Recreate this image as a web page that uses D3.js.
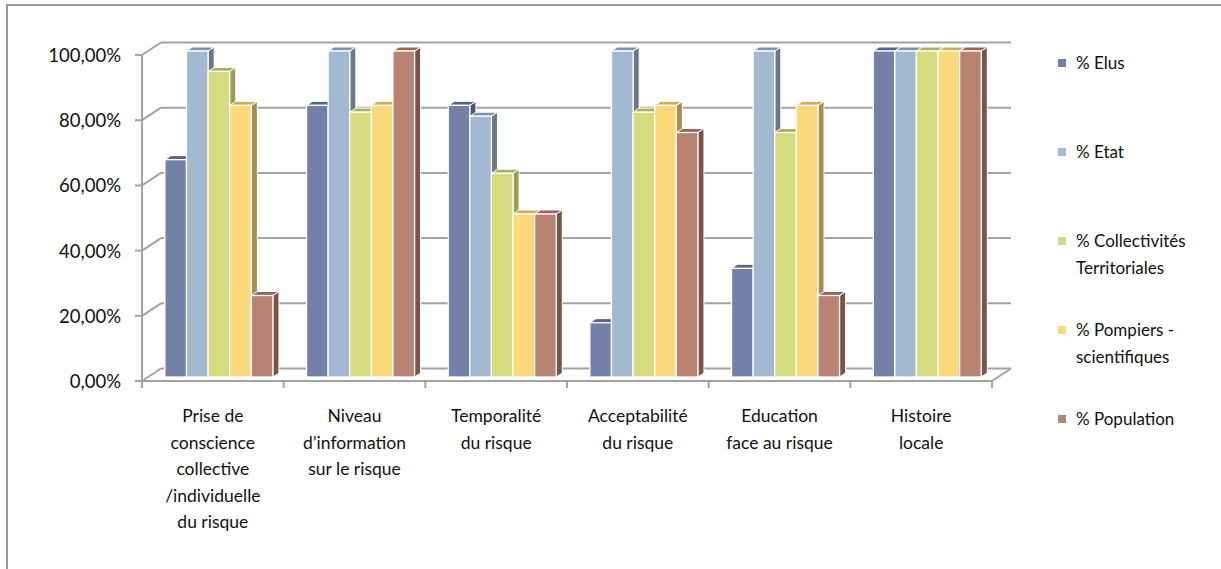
<!DOCTYPE html>
<html>
<head>
<meta charset="utf-8">
<script src="https://cdn.jsdelivr.net/npm/d3@7"></script>
<style>
  html, body { margin: 0; padding: 0; background: #fff; }
  svg { display: block; }
  text { font-family: Lato, "Open Sans", sans-serif; fill: #111; }
</style>
</head>
<body>
<svg id="chart" width="1221" height="569"></svg>
<script>
// ---------- data ----------
const categoryLines = [
  ["Prise de", "conscience", "collective", "/individuelle", "du risque"],
  ["Niveau", "d’information", "sur le risque"],
  ["Temporalité", "du risque"],
  ["Acceptabilité", "du risque"],
  ["Education", "face au risque"],
  ["Histoire", "locale"]
];
const seriesNames = ["% Elus", "% Etat", "% Collectivités Territoriales", "% Pompiers - scientifiques", "% Population"];
const legendLines = [["% Elus"], ["% Etat"], ["% Collectivités", "Territoriales"], ["% Pompiers -", "scientifiques"], ["% Population"]];
const elus          = [66.67, 83.33, 83.33, 16.67, 33.33, 100];
const etat          = [100, 100, 80, 100, 100, 100];
const collectivites = [93.75, 81.25, 62.5, 81.25, 75, 100];
const pompiers      = [83.33, 83.33, 50, 83.33, 83.33, 100];
const population    = [25, 100, 50, 75, 25, 100];
const yTicks = [0, 20, 40, 60, 80, 100];
const yTickLabels = ["0,00%", "20,00%", "40,00%", "60,00%", "80,00%", "100,00%"];

const seriesValues = [elus, etat, collectivites, pompiers, population];

// ---------- styles ----------
const frontCol = ["#7380A8", "#A3B8D1", "#D5DC80", "#FAD97A", "#B98373"];
const topCol   = ["#58638C", "#7E93A8", "#ACAF5D", "#CDAE55", "#9A6556"];
const sideCol  = ["#4B5576", "#69798A", "#9C9C4F", "#A68E4E", "#7A5448"];
const gridCol = "#a3a3a3";

const svg = d3.select("#chart");

// outer frame
svg.append("rect").attr("x", 7).attr("y", 5).attr("width", 1400).attr("height", 800)
  .attr("fill", "#fff").attr("stroke", "#9a9a9a").attr("stroke-width", 2);

// geometry
const DX = 19, DY = -12.5;
const y = d3.scaleLinear().domain([0, 100]).range([381, 55]);
const x0 = d3.scaleBand().domain(d3.range(categoryLines.length)).range([142, 992]);
const x1 = d3.scaleBand().domain(d3.range(seriesNames.length)).range([16.8, 124.8]);
const fOff = 0.32;
const bDepth = 0.32;

const g = svg.append("g");

yTicks.forEach((t, i) => {
  const yf = y(t);
  g.append("line").attr("x1", 142 + DX).attr("x2", 992 + DX)
    .attr("y1", yf + DY).attr("y2", yf + DY)
    .attr("stroke", gridCol).attr("stroke-width", 2);
  g.append("line").attr("x1", 142).attr("y1", yf).attr("x2", 142 + DX).attr("y2", yf + DY)
    .attr("stroke", gridCol).attr("stroke-width", 2);
  g.append("line").attr("x1", 135).attr("x2", 142).attr("y1", yf).attr("y2", yf)
    .attr("stroke", gridCol).attr("stroke-width", 2);
  g.append("text").attr("x", 121).attr("y", yf + 7).attr("text-anchor", "end")
    .style("font-size", "18.5px").text(yTickLabels[i]);
});
g.append("line").attr("x1", 142).attr("x2", 142).attr("y1", y(100)).attr("y2", y(0))
  .attr("stroke", gridCol).attr("stroke-width", 2);
g.append("line").attr("x1", 142).attr("x2", 992).attr("y1", y(0)).attr("y2", y(0))
  .attr("stroke", gridCol).attr("stroke-width", 2);
g.append("line").attr("x1", 992).attr("y1", y(0)).attr("x2", 992 + DX).attr("y2", y(0) + DY)
  .attr("stroke", gridCol).attr("stroke-width", 2);
d3.range(categoryLines.length + 1).forEach(i => {
  const xx = 142 + i * x0.bandwidth();
  g.append("line").attr("x1", xx).attr("x2", xx).attr("y1", y(0)).attr("y2", y(0) + 7)
    .attr("stroke", gridCol).attr("stroke-width", 2);
});

// bars
const ox = fOff * DX, oy = fOff * DY;
const sx = bDepth * DX, sy = bDepth * DY;
const bw = x1.bandwidth();
const bars = g.append("g");
categoryLines.forEach((c, ci) => {
  seriesValues.forEach((vals, si) => {
    const v = vals[ci];
    const xl = x0(ci) + x1(si) + ox;
    const xr = xl + bw;
    const yt = y(v) + oy;
    const yb = y(0) + oy;
    bars.append("path")
      .attr("d", `M${xr},${yt}L${xr + sx},${yt + sy}L${xr + sx},${yb + sy}L${xr},${yb}Z`)
      .attr("fill", sideCol[si]).attr("stroke", "#fff").attr("stroke-width", 1).attr("stroke-linejoin", "round");
    bars.append("path")
      .attr("d", `M${xl},${yt}L${xl + sx},${yt + sy}L${xr + sx},${yt + sy}L${xr},${yt}Z`)
      .attr("fill", topCol[si]).attr("stroke", "#fff").attr("stroke-width", 1).attr("stroke-linejoin", "round");
    bars.append("rect").attr("x", xl).attr("y", yt).attr("width", bw).attr("height", yb - yt)
      .attr("fill", frontCol[si]).attr("stroke", "#fff").attr("stroke-width", 1.3);
  });
});

// category labels
categoryLines.forEach((lines, ci) => {
  const cx = x0(ci) + x0.bandwidth() / 2;
  const t = g.append("text").attr("text-anchor", "middle").style("font-size", "17.5px");
  lines.forEach((ln, li) => {
    t.append("tspan").attr("x", cx).attr("y", 422 + li * 26.5).text(ln);
  });
});

// legend
const legendY = [63, 152, 241, 330, 419];
legendLines.forEach((lines, si) => {
  const ly = legendY[si];
  g.append("rect").attr("x", 1058).attr("y", ly - 4).attr("width", 8).attr("height", 8)
    .attr("fill", frontCol[si]);
  const t = g.append("text").style("font-size", "17px");
  lines.forEach((ln, li) => {
    t.append("tspan").attr("x", 1076).attr("y", ly + 6 + li * 27).text(ln);
  });
});
</script>
</body>
</html>
